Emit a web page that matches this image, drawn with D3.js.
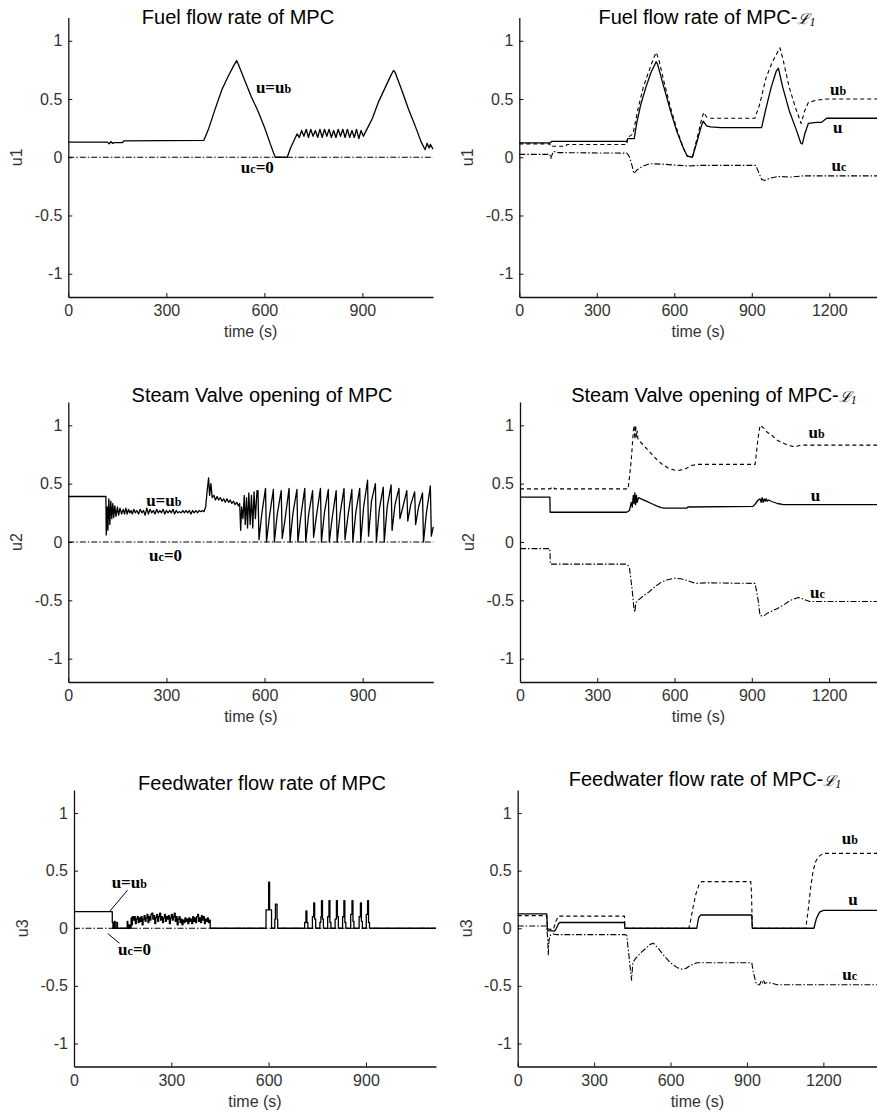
<!DOCTYPE html>
<html>
<head>
<meta charset="utf-8">
<script src="https://cdn.jsdelivr.net/npm/d3@7"></script>
<style>
  body { margin: 0; background: #fff; }
  svg text { font-family: "Liberation Sans", Arial, sans-serif; }
</style>
</head>
<body>
<svg id="chart"></svg>
<script>
// tick values
var yTicks = [-1, -0.5, 0, 0.5, 1];
var xTicksMpc = [0, 300, 600, 900];
var xTicksL1 = [0, 300, 600, 900, 1200];

// --- fuel flow rate (u1) ---
var fuelMpcU = [[0,0.13],[120,0.13],[125,0.115],[130,0.135],[135,0.12],[140,0.125],[165,0.125],[170,0.14],[415,0.145],
  [430,0.25],[450,0.42],[470,0.58],[490,0.7],[505,0.78],[515,0.83],[520,0.8],
  [540,0.66],[560,0.52],[580,0.4],[600,0.26],[620,0.1],[633,0],[670,0],[680,0.08],[690,0.14],[700,0.2],
  [707,0.17],[714,0.23],[721,0.18],[728,0.24],[735,0.17],[742,0.24],[749,0.18],[756,0.23],[763,0.17],[770,0.24],
  [777,0.17],[784,0.24],[791,0.18],[798,0.24],[805,0.17],[812,0.23],[819,0.17],[826,0.24],[833,0.18],[840,0.24],
  [847,0.17],[854,0.24],[861,0.17],[868,0.23],[875,0.17],[882,0.24],[889,0.16],[896,0.23],[903,0.18],[910,0.22],
  [930,0.33],[950,0.48],[970,0.6],[985,0.69],[995,0.745],[1000,0.73],
  [1020,0.58],[1040,0.42],[1060,0.28],[1080,0.13],[1092,0.065],[1098,0.12],[1104,0.08],[1108,0.11],[1116,0.07]];
var fuelMpcUc = [[0,0],[1116,0]];

var fuelL1U = [[0,0.123],[120,0.123],[125,0.137],[416,0.137],[420,0.16],[445,0.16],[455,0.3],[470,0.45],[490,0.6],
  [510,0.73],[530,0.82],[535,0.8],[560,0.6],[585,0.4],[610,0.22],[635,0.08],[650,0.01],[670,0],[690,0.15],
  [705,0.27],[712,0.31],[725,0.27],[740,0.26],[780,0.255],[938,0.255],[955,0.42],[975,0.6],[995,0.74],[1003,0.765],
  [1020,0.6],[1045,0.4],[1070,0.25],[1090,0.12],[1096,0.114],[1105,0.2],[1119,0.29],[1150,0.3],[1170,0.3],
  [1190,0.335],[1420,0.335]];
var fuelL1Ub = [[0,0.115],[118,0.115],[122,0.09],[128,0.095],[180,0.095],[185,0.11],[416,0.11],[420,0.17],[440,0.2],
  [460,0.42],[480,0.6],[500,0.73],[520,0.85],[530,0.9],[540,0.84],[560,0.65],[585,0.43],[610,0.24],[635,0.08],
  [650,0.01],[670,0],[690,0.18],[705,0.32],[714,0.385],[725,0.345],[740,0.335],[912,0.335],[930,0.45],[955,0.68],
  [980,0.82],[1009,0.94],[1020,0.85],[1045,0.6],[1070,0.42],[1091,0.29],[1105,0.4],[1119,0.47],[1150,0.49],
  [1190,0.5],[1420,0.5]];
var fuelL1Uc = [[0,0.025],[118,0.025],[122,-0.01],[130,0.04],[135,0.05],[145,0.04],[416,0.035],[425,0.01],[435,-0.06],
  [444,-0.14],[455,-0.11],[475,-0.08],[505,-0.055],[560,-0.06],[620,-0.07],[654,-0.075],[700,-0.07],[915,-0.07],
  [925,-0.12],[938,-0.19],[950,-0.2],[970,-0.18],[1000,-0.165],[1050,-0.17],[1100,-0.16],[1420,-0.16]];

// --- steam valve opening (u2) ---
var steamMpcU = [[0,0.39],[115,0.39],[116,0.06],[119,0.3],[121,0.1],[124,0.37],[127,0.15],[130,0.35],[133,0.2],
  [136,0.33],[139,0.21],[142,0.31],[146,0.22],[150,0.3],[154,0.23],[158,0.29],[163,0.24],
  [168,0.28],[172,0.24],[176,0.29],[180,0.24],[184,0.28],[188,0.25],[192,0.27],[196,0.24],[200,0.28],[205,0.25],
  [210,0.27],[215,0.24],[220,0.28],[225,0.25],[230,0.27],[235,0.23],[240,0.29],[245,0.24],[250,0.28],[255,0.25],
  [260,0.27],[265,0.24],[270,0.28],[275,0.25],[280,0.27],[285,0.25],[290,0.28],[295,0.24],[300,0.27],[305,0.25],
  [310,0.27],[315,0.25],[320,0.28],[325,0.24],[330,0.27],[335,0.25],[340,0.26],[345,0.25],[350,0.27],[355,0.25],
  [360,0.27],[365,0.25],[370,0.27],[375,0.24],[380,0.27],[385,0.25],[390,0.27],[395,0.25],[400,0.27],[405,0.26],
  [410,0.27],[415,0.26],
  [420,0.3],[425,0.45],[429,0.55],[432,0.4],[436,0.5],[440,0.38],[445,0.4],[450,0.36],[455,0.39],[460,0.36],
  [465,0.38],[470,0.35],[475,0.37],[480,0.34],[485,0.37],[490,0.34],[495,0.36],[500,0.33],[505,0.35],[510,0.32],
  [515,0.34],[520,0.31],[524,0.33],[527,0.1],[530,0.3],[534,0.2],[538,0.4],[541,0.15],[545,0.38],[548,0.12],
  [552,0.42],[556,0.15],[560,0.4],[564,0.12],[568,0.43],[572,0.2],[577,0.44],
  [580,0.44],[583,0.02],[592,0.25],[603,0.46],[606,0],[615,0.22],[627,0.45],[630,0],[639,0.24],
  [651,0.44],[654,0.03],[663,0.2],[675,0.46],[678,0],[687,0.25],[699,0.45],[702,0],[711,0.22],
  [723,0.46],[726,0],[735,0.24],[747,0.44],[750,0.04],[759,0.23],[771,0.46],[774,0],[783,0.25],
  [795,0.45],[798,0],[807,0.21],[819,0.44],[822,0],[831,0.24],[843,0.46],[846,0.02],[855,0.22],
  [867,0.45],[870,0],[879,0.25],[891,0.46],[894,0],[903,0.3],[915,0.53],[918,0.05],[927,0.35],
  [939,0.5],[942,0],[951,0.28],[963,0.47],[966,0],[975,0.3],[987,0.49],[990,0.1],[999,0.32],
  [1011,0.46],[1014,0.2],[1023,0.3],[1035,0.44],[1038,0.18],[1047,0.32],[1059,0.43],[1062,0.15],[1071,0.3],
  [1083,0.42],[1086,0],[1095,0.25],[1107,0.48],[1110,0.05],[1116,0.13]];
var steamMpcUc = [[0,0],[1116,0]];

var steamL1U = [[0,0.385],[116,0.385],[117,0.255],[414,0.255],[425,0.27],[432,0.34],[436,0.3],[440,0.4],[443,0.33],
  [446,0.42],[449,0.32],[452,0.4],[455,0.34],[460,0.38],[470,0.37],[490,0.35],[510,0.33],[530,0.31],[548,0.295],
  [560,0.29],[648,0.29],[652,0.3],[905,0.305],[915,0.33],[925,0.36],[932,0.37],[936,0.34],[940,0.38],[944,0.34],
  [948,0.37],[952,0.35],[956,0.37],[960,0.35],[965,0.36],[980,0.345],[1000,0.33],[1023,0.32],[1420,0.32]];
var steamL1Ub = [[0,0.455],[116,0.455],[120,0.46],[128,0.475],[135,0.455],[420,0.455],[432,0.7],[440,0.95],[443,1.0],
  [446,0.88],[449,1.0],[452,0.9],[455,0.95],[458,0.88],[475,0.84],[500,0.78],[525,0.72],[550,0.67],[575,0.635],
  [600,0.615],[620,0.615],[645,0.63],[665,0.655],[690,0.665],[913,0.665],[925,0.9],[932,1.0],[950,0.97],[960,0.94],
  [975,0.92],[1000,0.87],[1030,0.84],[1056,0.82],[1075,0.82],[1090,0.83],[1420,0.83]];
var steamL1Uc = [[0,-0.057],[116,-0.057],[118,-0.19],[416,-0.19],[425,-0.22],[435,-0.4],[443,-0.58],[446,-0.6],
  [450,-0.52],[458,-0.5],[480,-0.46],[500,-0.43],[520,-0.39],[545,-0.35],[570,-0.325],[600,-0.31],[625,-0.315],
  [650,-0.33],[675,-0.35],[691,-0.355],[715,-0.35],[913,-0.355],[925,-0.5],[932,-0.63],[945,-0.635],[955,-0.62],
  [960,-0.61],[975,-0.595],[1000,-0.57],[1023,-0.54],[1050,-0.5],[1081,-0.475],[1100,-0.49],[1125,-0.51],[1420,-0.51]];

// --- feedwater flow rate (u3) --- (MPC u drawn as steps)
var feedMpcU = [[0,0.145],[116,0.145],[118,0.05],[120,0],[124,0.06],[127,0],[132,0.05],[134,0],[160,0],[164,0.06],
  [166,0],[170,0.03],[172,0],[176,0.09],[178,0.03],[180,0.1],[183,0.07],[186,0.1],[189,0.04],[192,0.08],[195,0.1],
  [198,0.05],[201,0.09],[204,0.06],[207,0.1],[210,0.03],[213,0.08],[216,0.11],[219,0.06],[222,0.09],[225,0.12],
  [228,0.05],[231,0.1],[234,0.07],[237,0.12],[240,0.13],[243,0.08],[246,0.11],[249,0.04],[252,0.09],[255,0.12],
  [258,0.06],[261,0.1],[264,0.13],[267,0.07],[270,0.1],[273,0.05],[276,0.09],[279,0.12],[282,0.06],[285,0.1],
  [288,0.08],[291,0.11],[294,0.04],[297,0.09],[300,0.12],[303,0.07],[306,0.1],[309,0.13],[312,0.06],[315,0.1],
  [318,0.03],[321,0.08],[324,0.1],[327,0.05],[330,0.08],[333,0.03],[336,0.07],[339,0.05],[342,0.09],[345,0.06],
  [348,0.08],[351,0.04],[354,0.09],[357,0.06],[360,0.08],[363,0.04],[366,0.1],[369,0.06],[372,0.09],[375,0.05],
  [378,0.1],[381,0.12],[384,0.06],[387,0.09],[390,0.05],[393,0.11],[396,0.07],[399,0.1],[402,0.04],[405,0.08],
  [408,0.06],[411,0.09],[414,0.05],[417,0.07],[420,0],
  [590,0],[592,0.16],[598,0.16],[600,0.4],[603,0.16],[606,0.16],[609,0],[617,0],[619,0.08],[621,0.21],[624,0.21],
  [626,0.08],[628,0],
  [711,0.05],[715,0.15],[718,0.05],[721,0],[735,0.1],[739,0.22],[742,0.08],[745,0],
  [758,0.05],[761,0.1],[763,0.24],[766,0.08],[769,0],[782,0.1],[786,0.24],[789,0.05],[792,0],
  [805,0.08],[809,0.24],[812,0.1],[815,0],[828,0.1],[832,0.24],[835,0.05],[838,0],
  [853,0.12],[857,0.24],[860,0.06],[863,0],[879,0.1],[883,0.22],[886,0.06],[889,0],
  [901,0.12],[905,0.24],[908,0.05],[911,0],[1116,0]];
var feedMpcUc = [[0,0],[1116,0]];

var feedL1U = [[0,0.125],[114,0.125],[117,-0.02],[145,-0.025],[152,0],[160,0.04],[166,0.05],[419,0.05],[421,0],
  [703,0],[710,0.09],[718,0.115],[919,0.115],[921,0],[1163,0],[1172,0.08],[1185,0.14],[1200,0.155],[1420,0.155]];
var feedL1Ub = [[0,0.11],[114,0.11],[117,0],[125,-0.01],[140,-0.01],[150,0.06],[160,0.105],[419,0.105],[421,0],
  [672,0],[680,0.08],[690,0.2],[700,0.3],[712,0.38],[722,0.405],[915,0.405],[918,0.3],[921,0],[1131,0],
  [1140,0.15],[1150,0.35],[1160,0.5],[1170,0.58],[1180,0.62],[1200,0.65],[1420,0.65]];
var feedL1Uc = [[0,0.02],[114,0.02],[118,-0.1],[120,-0.23],[123,-0.1],[128,-0.06],[140,-0.05],[150,-0.055],
  [419,-0.055],[428,-0.06],[435,-0.2],[442,-0.35],[447,-0.45],[452,-0.3],[460,-0.27],[480,-0.22],[500,-0.18],
  [520,-0.14],[533,-0.13],[550,-0.17],[575,-0.24],[600,-0.3],[625,-0.34],[644,-0.355],[660,-0.35],[680,-0.32],
  [703,-0.3],[919,-0.3],[925,-0.38],[935,-0.47],[940,-0.49],[950,-0.49],[955,-0.46],[960,-0.475],[965,-0.45],
  [970,-0.48],[980,-0.47],[1000,-0.48],[1020,-0.49],[1420,-0.49]];

var width = 877, height = 1113;
var svg = d3.select('#chart').attr('width', width).attr('height', height);

var styles = {
  u:  { width: 1.3, dash: null },
  ub: { width: 1.1, dash: '4,3' },
  uc: { width: 1.1, dash: '6,2,1.5,2' }
};

// layout of the six panels (pixels) and annotation anchors (data coords)
var panels = [
  { title: 'Fuel flow rate of MPC', l1: false, ylab: 'u1', tx: 238, ty: 24,
    left: 68.3, right: 433, top: 17.5, bottom: 297, xmax: 1116, xticks: xTicksMpc,
    series: [[fuelMpcUc, 'uc'], [fuelMpcU, 'u']],
    labels: [{ t: 574, v: 0.55, main: 'u=u', sub: 'b' }, { t: 528, v: -0.135, main: 'u', sub: 'c', tail: '=0' }] },
  { title: 'Fuel flow rate of MPC-', l1: true, ylab: 'u1', tx: 707, ty: 24,
    left: 519.3, right: 886.1, top: 17.5, bottom: 297, xmax: 1420, xticks: xTicksL1,
    series: [[fuelL1Uc, 'uc'], [fuelL1Ub, 'ub'], [fuelL1U, 'u']],
    labels: [{ t: 1203, v: 0.535, main: 'u', sub: 'b' }, { t: 1214, v: 0.21, main: 'u' }, { t: 1209, v: -0.118, main: 'u', sub: 'c' }] },
  { title: 'Steam Valve opening of MPC', l1: false, ylab: 'u2', tx: 262, ty: 402,
    left: 68.3, right: 433.3, top: 402, bottom: 682, xmax: 1116, xticks: xTicksMpc,
    series: [[steamMpcUc, 'uc'], [steamMpcU, 'u']],
    labels: [{ t: 238, v: 0.31, main: 'u=u', sub: 'b' }, { t: 247, v: -0.165, main: 'u', sub: 'c', tail: '=0' }] },
  { title: 'Steam Valve opening of MPC-', l1: true, ylab: 'u2', tx: 714, ty: 402,
    left: 520, right: 885.7, top: 402, bottom: 682, xmax: 1420, xticks: xTicksL1,
    series: [[steamL1Uc, 'uc'], [steamL1Ub, 'ub'], [steamL1U, 'u']],
    labels: [{ t: 1120, v: 0.89, main: 'u', sub: 'b' }, { t: 1129, v: 0.355, main: 'u' }, { t: 1126, v: -0.476, main: 'u', sub: 'c' }] },
  { title: 'Feedwater flow rate of MPC', l1: false, ylab: 'u3', tx: 262, ty: 790,
    left: 74, right: 436, top: 790, bottom: 1066.5, xmax: 1116, xticks: xTicksMpc,
    series: [[feedMpcUc, 'uc'], [feedMpcU, 'u', d3.curveStepAfter]],
    labels: [{ t: 116, v: 0.346, main: 'u=u', sub: 'b' }, { t: 136, v: -0.233, main: 'u', sub: 'c', tail: '=0' }],
    leaders: [[[165, 0.33], [111, 0.15]], [[104, -0.046], [140, -0.13]]] },
  { title: 'Feedwater flow rate of MPC-', l1: true, ylab: 'u3', tx: 705, ty: 786,
    left: 517.7, right: 879.4, top: 790, bottom: 1066.5, xmax: 1420, xticks: xTicksL1,
    series: [[feedL1Uc, 'uc'], [feedL1Ub, 'ub'], [feedL1U, 'u']],
    labels: [{ t: 1272, v: 0.735, main: 'u', sub: 'b' }, { t: 1298, v: 0.2, main: 'u' }, { t: 1274, v: -0.45, main: 'u', sub: 'c' }] }
];

panels.forEach(function(p) {
  var x = d3.scaleLinear().domain([0, p.xmax]).range([p.left, p.right]);
  var y = d3.scaleLinear().domain([-1.2, 1.2]).range([p.bottom, p.top]);
  var g = svg.append('g');

  // axes, ticks pointing inward, no box
  var xa = g.append('g').attr('transform', 'translate(0,' + p.bottom + ')')
    .call(d3.axisBottom(x).tickValues(p.xticks).tickSize(-4).tickSizeOuter(0).tickPadding(8).tickFormat(d => String(d)));
  var ya = g.append('g').attr('transform', 'translate(' + p.left + ',0)')
    .call(d3.axisLeft(y).tickValues(yTicks).tickSize(-4).tickSizeOuter(0).tickPadding(6).tickFormat(d => String(d)));
  [xa, ya].forEach(function(a) {
    a.select('.domain').attr('stroke', '#111').attr('stroke-width', 1.3);
    a.selectAll('.tick line').attr('stroke', '#111');
    a.selectAll('.tick text').attr('fill', '#333').style('font-size', '16px');
  });

  // title
  var tt = g.append('text').attr('x', p.tx).attr('y', p.ty).attr('text-anchor', 'middle')
    .style('font-size', '20px').attr('fill', '#000').text(p.title);
  if (p.l1) {
    tt.append('tspan').style('font-family', '"DejaVu Serif", serif').style('font-style', 'italic')
      .style('font-size', '15px').text('\u2112');
    tt.append('tspan').style('font-family', '"Liberation Serif", serif').style('font-style', 'italic')
      .style('font-size', '12px').attr('dy', 2).text('1');
  }

  // axis labels
  g.append('text').attr('x', (p.left + Math.min(p.right, width)) / 2).attr('y', p.bottom + 40)
    .attr('text-anchor', 'middle').attr('fill', '#333').style('font-size', '16px').text('time (s)');
  g.append('text').attr('transform', 'translate(' + (p.left - 46) + ',' + y(0) + ') rotate(-90)')
    .attr('text-anchor', 'middle').attr('fill', '#333').style('font-size', '16px').text(p.ylab);

  // series
  p.series.forEach(function(s) {
    var st = styles[s[1]];
    var line = d3.line().x(d => x(d[0])).y(d => y(d[1])).curve(s[2] || d3.curveLinear);
    g.append('path').datum(s[0])
      .attr('d', line)
      .attr('fill', 'none')
      .attr('stroke', '#000')
      .attr('stroke-width', st.width)
      .attr('stroke-dasharray', st.dash)
      .attr('stroke-linejoin', 'round');
  });

  // curve annotations
  p.labels.forEach(function(l) {
    var t = g.append('text').attr('x', x(l.t)).attr('y', y(l.v))
      .style('font-family', '"Liberation Serif", "Times New Roman", serif')
      .style('font-weight', 'bold').style('font-size', '17px').attr('fill', '#000');
    t.append('tspan').text(l.main);
    if (l.sub) t.append('tspan').style('font-size', '12px').text(l.sub);
    if (l.tail) t.append('tspan').text(l.tail);
  });

  (p.leaders || []).forEach(function(ld) {
    g.append('line')
      .attr('x1', x(ld[0][0])).attr('y1', y(ld[0][1]))
      .attr('x2', x(ld[1][0])).attr('y2', y(ld[1][1]))
      .attr('stroke', '#000').attr('stroke-width', 1);
  });
});
</script>
</body>
</html>
